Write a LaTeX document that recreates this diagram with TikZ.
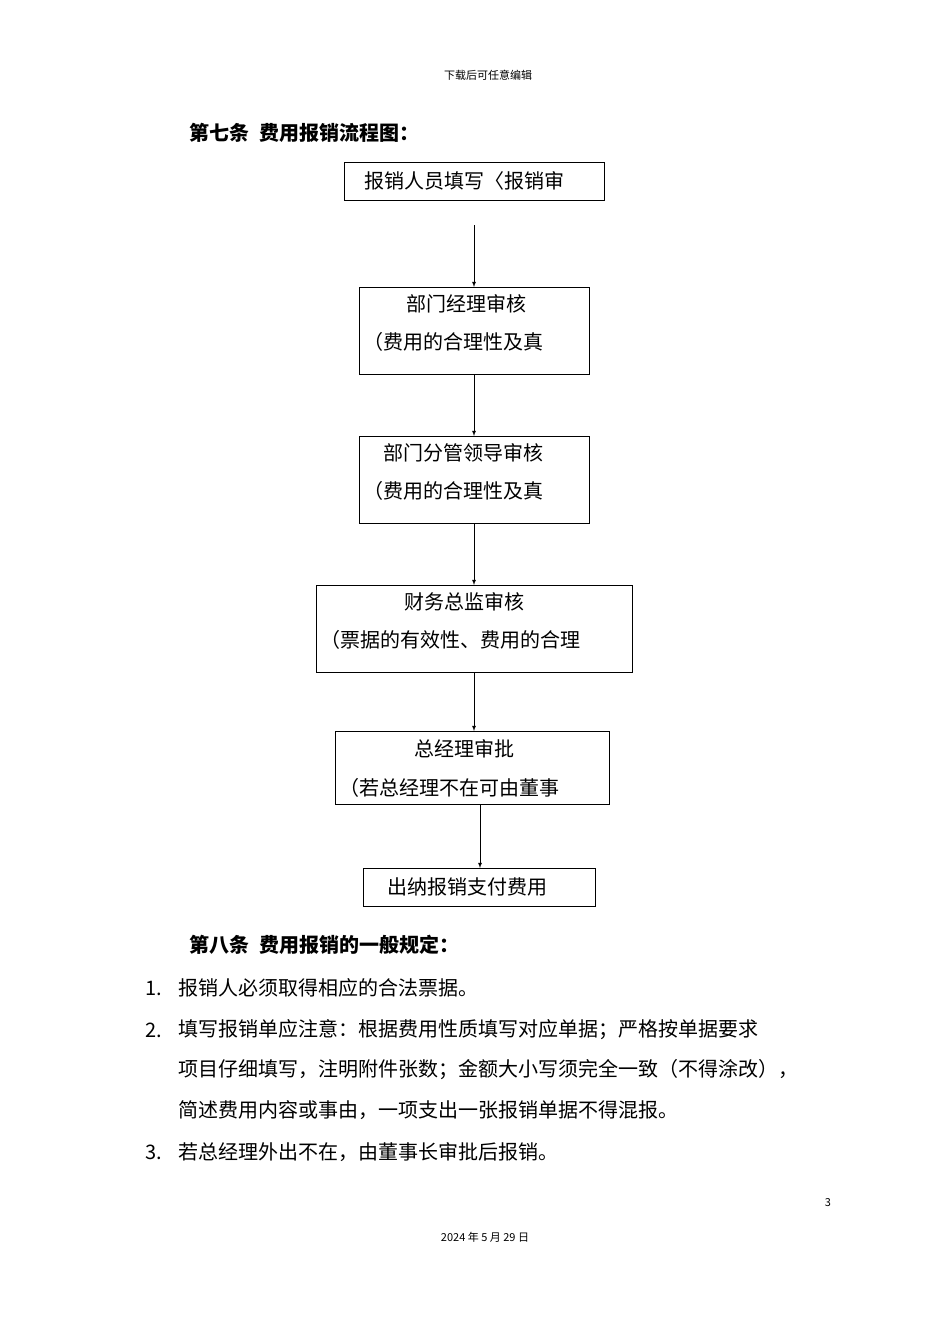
\documentclass[tikz,border=0pt]{standalone}
\usepackage{fontspec}
\setmainfont{Noto Sans CJK SC}
\newfontfamily\cjkb{Noto Sans CJK SC Bold}
\begin{document}
\begin{tikzpicture}[x=1pt,y=-1pt,
  box/.style={draw,line width=0.8pt,inner sep=0pt},
  tx/.style={font=\fontsize{20}{24}\selectfont,anchor=west,inner sep=0pt},
  arr/.style={-latex,line width=0.8pt}]
\useasboundingbox (0,0) rectangle (950,1344);
\node[font=\fontsize{11}{13}\selectfont] (hd) at (488,75) {下载后可任意编辑};
\node[font=\fontsize{20}{24}\selectfont\bfseries,anchor=west] (t1) at (186,133) {第七条\enspace 费用报销流程图：};
% boxes
\draw[box] (344,162) rectangle (604,200) node[midway] (b1) {};
\node[tx] at (364,181) {报销人员填写〈报销审};
\draw[box] (359,287) rectangle (589,374);
\node[tx] at (406,304) {部门经理审核};
\node[tx] at (363,342) {（费用的合理性及真};
\draw[box] (359,436) rectangle (589,523);
\node[tx] at (383,453) {部门分管领导审核};
\node[tx] at (363,491) {（费用的合理性及真};
\draw[box] (316,585) rectangle (632,672);
\node[tx] at (404,602) {财务总监审核};
\node[tx] at (320,640) {（票据的有效性、费用的合理};
\draw[box] (335,731) rectangle (609,804);
\node[tx] at (414,749) {总经理审批};
\node[tx] at (339,788) {（若总经理不在可由董事};
\draw[box] (363,868) rectangle (595,906);
\node[tx] at (387,887) {出纳报销支付费用};
% arrows
\coordinate (a1) at (474,225); \coordinate (a1e) at (474,287);
\draw[arr] (a1) -- (a1e);
\coordinate (a2) at (474,374); \coordinate (a2e) at (474,436);
\draw[arr] (a2) -- (a2e);
\coordinate (a3) at (474,523); \coordinate (a3e) at (474,585);
\draw[arr] (a3) -- (a3e);
\coordinate (a4) at (474,672); \coordinate (a4e) at (474,731);
\draw[arr] (a4) -- (a4e);
\coordinate (a5) at (480,804); \coordinate (a5e) at (480,868);
\draw[arr] (a5) -- (a5e);
% section 8
\node[font=\fontsize{20}{24}\selectfont\bfseries,anchor=west] (t2) at (186,945) {第八条\enspace 费用报销的一般规定：};
\begin{scope}[every node/.style={font=\fontsize{20}{24}\selectfont,anchor=west,inner sep=0pt}]
\node (n1) at (145,988) {1.};
\node (l1) at (178,988) {报销人必须取得相应的合法票据。};
\node (n2) at (145,1030) {2.};
\node (l2) at (178,1030) {填写报销单应注意：根据费用性质填写对应单据；严格按单据要求};
\node (l3) at (178,1070) {项目仔细填写，注明附件张数；金额大小写须完全一致（不得涂改），};
\node (l4) at (178,1110) {简述费用内容或事由，一项支出一张报销单据不得混报。};
\node (n3) at (145,1152) {3.};
\node (l5) at (178,1152) {若总经理外出不在，由董事长审批后报销。};
\end{scope}
\node[font=\fontsize{11}{13}\selectfont] (pg) at (828,1203) {3};
\node[font=\fontsize{11}{13}\selectfont] (dt) at (485,1237) {2024 年 5 月 29 日};
\end{tikzpicture}
\end{document}
